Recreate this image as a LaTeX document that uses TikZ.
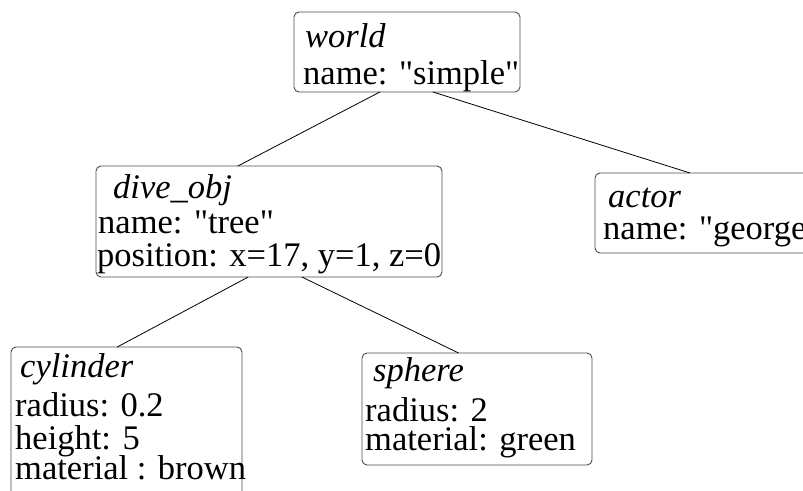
\documentclass[tikz,border=0pt]{standalone}
\usepackage{fontspec}
\setmainfont{Liberation Serif}[Ligatures=TeXOff]
\usetikzlibrary{calc}
\begin{document}
\begin{tikzpicture}[x=1pt,y=-1pt,
  box/.style={draw=black!70, line width=0.9pt, rounded corners=5pt, inner sep=0pt, outer sep=0pt, anchor=north west},
  txt/.style={anchor=base west, inner sep=0pt, text height=19pt, text depth=5pt, font=\fontsize{34.5}{36}\selectfont},
  link/.style={draw=black, line width=0.8pt}]
\useasboundingbox (0,0) rectangle (803,490);
\clip (0,0) rectangle (803,490);
% boxes
\node[box, minimum width=226pt, minimum height=80pt] (world) at (294,12) {};
\node[box, minimum width=346pt, minimum height=111pt] (dive) at (96,166) {};
\node[box, minimum width=240pt, minimum height=80pt] (actor) at (595,173) {};
\node[box, minimum width=231pt, minimum height=160pt] (cyl) at (11,347) {};
\node[box, minimum width=230pt, minimum height=112pt] (sph) at (362,353) {};
% texts
\node[txt] (w1) at (305,47) {\textit{world}};
\node[txt] (w2) at (303,84) {name: "simple"};
\node[txt] (d1) at (113,198) {\textit{dive\_obj}};
\node[txt] (d2) at (98,233) {name: "tree"};
\node[txt] (d3) at (97,266) {position: x=17, y=1, z=0};
\node[txt] (a1) at (608,207) {\textit{actor}};
\node[txt] (a2) at (603,239) {name: "george"};
\node[txt] (c1) at (20,377) {\textit{cylinder}};
\node[txt] (c2) at (15,416) {radius: 0.2};
\node[txt] (c3) at (15,449) {height: 5};
\node[txt] (c4) at (15,479) {material : brown};
\node[txt] (s1) at (373,381) {\textit{sphere}};
\node[txt] (s2) at (365,421) {radius: 2};
\node[txt] (s3) at (365,450) {material: green};
% connectors
\draw[link] ($(world.south west)!0.38!(world.south east)$) -- ($(dive.north west)!0.41!(dive.north east)$);
\draw[link] ($(world.south west)!0.615!(world.south east)$) -- ($(actor.north west)!0.396!(actor.north east)$);
\draw[link] ($(dive.south west)!0.44!(dive.south east)$) -- ($(cyl.north west)!0.46!(cyl.north east)$);
\draw[link] ($(dive.south west)!0.595!(dive.south east)$) -- ($(sph.north west)!0.42!(sph.north east)$);
\end{tikzpicture}
\end{document}
